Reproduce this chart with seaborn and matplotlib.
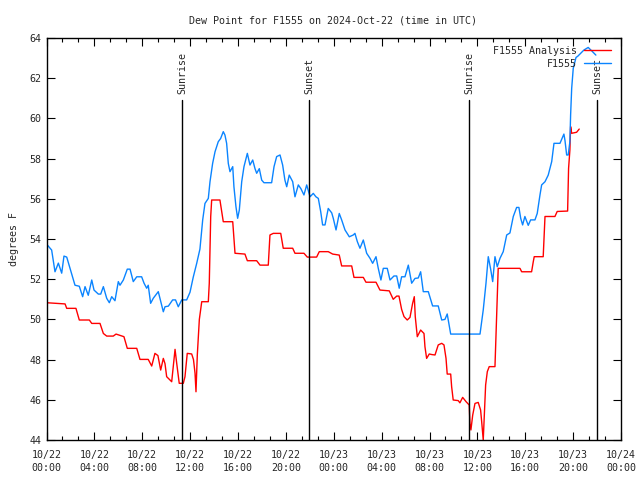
import pandas as pd
import numpy as np
import matplotlib
matplotlib.use("Agg")
import matplotlib.pyplot as plt
import matplotlib.dates as mdates
import matplotlib.ticker as mticker
import seaborn as sns

# hours after 2024-10-22 00:00 UTC, dew point in degrees F
obs_hours = [0.0, 0.43, 0.71, 0.99, 1.27, 1.46, 1.69, 1.96, 2.38, 2.74, 3.02, 3.22, 3.49, 3.78, 3.97,
             4.33, 4.53, 4.75, 5.03, 5.25, 5.45, 5.72, 6.0, 6.14, 6.42, 6.75, 6.98, 7.25, 7.54, 7.95,
             8.15, 8.37, 8.5, 8.7, 8.92, 9.34, 9.76, 9.9, 10.18, 10.54, 10.78, 11.01, 11.3, 11.71,
             11.99, 12.26, 12.55, 12.82, 13.05, 13.24, 13.52, 13.66, 13.88, 14.08, 14.35, 14.55,
             14.77, 14.91, 15.05, 15.19, 15.33, 15.56, 15.66, 15.83, 15.97, 16.11, 16.31, 16.5,
             16.78, 17.0, 17.23, 17.42, 17.56, 17.78, 17.98, 18.17, 18.81, 19.01, 19.23, 19.51,
             19.73, 19.92, 20.07, 20.28, 20.57, 20.76, 21.04, 21.26, 21.51, 21.74, 22.02, 22.29,
             22.51, 22.71, 22.91, 23.07, 23.27, 23.54, 23.83, 23.96, 24.19, 24.46, 24.66, 24.94,
             25.3, 25.63, 25.77, 25.97, 26.19, 26.47, 26.75, 27.03, 27.25, 27.53, 27.72, 27.94,
             28.14, 28.47, 28.7, 29.03, 29.26, 29.47, 29.67, 29.95, 30.23, 30.51, 30.79, 31.06,
             31.26, 31.48, 31.9, 32.26, 32.73, 33.02, 33.29, 33.48, 33.77, 36.22, 36.49, 36.72,
             36.91, 37.11, 37.28, 37.47, 37.66, 37.89, 38.16, 38.45, 38.72, 39.0, 39.28, 39.47,
             39.62, 39.78, 39.97, 40.25, 40.45, 40.81, 41.0, 41.23, 41.37, 41.65, 41.92, 42.21,
             42.4, 42.9, 43.23, 43.32, 43.46, 43.59, 43.73, 43.79, 43.88, 44.01, 44.24, 44.4,
             44.63, 44.9, 45.26, 45.57, 45.9]
obs_dewpt = [53.75, 53.45, 52.37, 52.8, 52.3, 53.15, 53.1, 52.55, 51.7, 51.65, 51.13, 51.63, 51.2,
             51.96, 51.46, 51.26, 51.26, 51.63, 51.05, 50.83, 51.13, 50.93, 51.88, 51.7, 51.96,
             52.5, 52.5, 51.88, 52.12, 52.12, 51.8, 51.55, 51.7, 50.8, 51.05, 51.38, 50.38, 50.63,
             50.66, 50.97, 50.97, 50.63, 50.97, 50.97, 51.35, 52.1, 52.79, 53.5, 54.95, 55.77,
             56.02, 56.85, 57.76, 58.34, 58.84, 59.0, 59.34, 59.17, 58.76, 57.76, 57.35, 57.6,
             56.6, 55.6, 55.03, 55.44, 56.85, 57.6, 58.26, 57.68, 57.93, 57.5, 57.27, 57.5, 56.93,
             56.8, 56.8, 57.6, 58.1, 58.18, 57.68, 56.93, 56.6, 57.18, 56.85, 56.1, 56.69, 56.5,
             56.19, 56.69, 56.1, 56.27, 56.1, 56.02, 55.36, 54.7, 54.7, 55.52, 55.3, 55.03, 54.45,
             55.27, 54.95, 54.45, 54.11, 54.2, 54.28, 53.87, 53.54, 53.95, 53.29, 53.04, 52.79,
             53.12, 52.54, 51.96, 52.54, 52.54, 51.96, 52.16, 52.16, 51.55, 52.12, 52.12, 52.7,
             51.8, 52.04, 52.06, 52.37, 51.38, 51.38, 50.67, 50.67, 49.97, 50.0, 50.27, 49.27,
             49.27, 50.47, 51.8, 53.12, 52.5, 51.88, 53.12, 52.62, 53.04, 53.37, 54.2, 54.3, 55.12,
             55.57, 55.57, 55.03, 54.7, 55.12, 54.68, 54.95, 54.95, 55.27, 56.19, 56.69, 56.85,
             57.18, 57.85, 58.76, 58.76, 59.22, 58.9, 58.18, 58.18, 58.84, 60.17, 61.5, 62.49,
             63.03, 63.1, 63.24, 63.4, 63.53, 63.35, 63.15]

ana_hours = [0.0, 1.55, 1.69, 2.46, 2.74, 3.58, 3.78, 4.47, 4.75, 5.03, 5.58, 5.81, 6.47, 6.75, 7.54,
             7.81, 8.5, 8.79, 9.06, 9.31, 9.54, 9.76, 9.9, 10.04, 10.46, 10.59, 10.74, 10.88, 11.09,
             11.43, 11.57, 11.76, 12.13, 12.28, 12.41, 12.49, 12.6, 12.77, 12.97, 13.52, 13.6,
             13.72, 13.8, 14.49, 14.77, 15.56, 15.75, 16.58, 16.78, 17.56, 17.84, 18.53, 18.67,
             18.95, 19.57, 19.78, 20.57, 20.76, 21.51, 21.79, 22.57, 22.79, 23.54, 23.91, 24.46,
             24.66, 25.5, 25.69, 26.47, 26.69, 27.53, 27.86, 28.64, 28.97, 29.26, 29.45, 29.67,
             29.87, 30.14, 30.37, 30.59, 30.73, 30.81, 30.98, 31.26, 31.54, 31.62, 31.76, 31.98,
             32.2, 32.46, 32.73, 33.02, 33.21, 33.38, 33.48, 33.77, 33.85, 33.98, 34.4, 34.54,
             34.77, 35.05, 35.32, 35.38, 35.46, 35.61, 35.8, 36.07, 36.27, 36.36, 36.49, 36.69,
             36.83, 36.99, 37.47, 37.61, 37.74, 39.56, 39.7, 40.53, 40.67, 40.75, 41.5, 41.65,
             42.48, 42.67, 43.54, 43.62, 43.73, 43.79, 43.88, 44.29, 44.51]
ana_dewpt = [50.83, 50.77, 50.55, 50.55, 49.97, 49.97, 49.8, 49.8, 49.3, 49.17, 49.17, 49.27, 49.14,
             48.56, 48.56, 48.01, 48.01, 47.68, 48.31, 48.2, 47.48, 48.06, 47.8, 47.15, 46.9, 47.65,
             48.51, 47.81, 46.82, 46.82, 47.15, 48.31, 48.28, 48.0, 47.32, 46.4, 48.23, 50.0, 50.88,
             50.88, 51.8, 55.12, 55.94, 55.94, 54.86, 54.86, 53.29, 53.25, 52.92, 52.92, 52.7, 52.7,
             54.2, 54.28, 54.28, 53.54, 53.54, 53.29, 53.29, 53.1, 53.1, 53.37, 53.37, 53.25, 53.2,
             52.66, 52.66, 52.09, 52.09, 51.85, 51.85, 51.46, 51.42, 51.0, 51.16, 51.16, 50.5,
             50.14, 49.97, 50.1, 50.8, 51.13, 50.14, 49.14, 49.47, 49.3, 48.64, 48.06, 48.28, 48.25,
             48.23, 48.73, 48.81, 48.73, 48.06, 47.28, 47.28, 46.65, 45.99, 45.96, 45.85, 46.12,
             45.91, 45.74, 44.83, 44.5, 45.24, 45.82, 45.87, 45.49, 44.91, 44.0, 46.74, 47.4, 47.65,
             47.65, 50.14, 52.54, 52.54, 52.37, 52.37, 52.87, 53.12, 53.12, 55.12, 55.12, 55.37,
             55.39, 57.51, 58.43, 59.59, 59.26, 59.31, 59.47]

sun_hours = [11.32, 21.93, 35.34, 46.03]
sun_labels = ["Sunrise", "Sunset", "Sunrise", "Sunset"]

start = pd.Timestamp("2024-10-22 00:00")
obs = pd.DataFrame({"time": start + pd.to_timedelta(obs_hours, unit="h"), "dewpt": obs_dewpt})
ana = pd.DataFrame({"time": start + pd.to_timedelta(ana_hours, unit="h"), "dewpt": ana_dewpt})

sns.set_style("ticks")
plt.rcParams["font.family"] = ["DejaVu Sans Mono"]
fs = 7.2

fig = plt.figure(figsize=(6.4, 4.8), dpi=100)
ax = fig.add_axes([46.5 / 640, 40 / 480, (621 - 46.5) / 640, 402 / 480])

sns.lineplot(data=ana, x="time", y="dewpt", color="#ff0000", lw=1, label="F1555 Analysis", ax=ax)
sns.lineplot(data=obs, x="time", y="dewpt", color="#0a84ff", lw=1, label="F1555", ax=ax)

for h, lab in zip(sun_hours, sun_labels):
    t = start + pd.Timedelta(hours=h)
    ax.axvline(t, ymin=0, ymax=(440 - 100) / 402, color="black", lw=1)
    ax.text(t, 61.2, lab, rotation=90, ha="center", va="bottom", fontsize=fs)

ax.set_xlim(start, start + pd.Timedelta(hours=48))
ax.set_ylim(44, 64)
ax.xaxis.set_major_locator(mticker.MultipleLocator(1 / 6))
ax.xaxis.set_minor_locator(mticker.MultipleLocator(1 / 18))
ax.xaxis.set_major_formatter(mdates.DateFormatter("%m/%d\n%H:%M"))
ax.yaxis.set_major_locator(mticker.MultipleLocator(2))
ax.tick_params(which="both", direction="in", top=True, right=True, labelsize=fs, width=0.8, color="black")
ax.tick_params(which="major", length=6)
ax.tick_params(axis="x", which="major", pad=7)
ax.tick_params(which="minor", length=3)
for s in ax.spines.values():
    s.set_color("black")
    s.set_linewidth(1)

ax.set_xlabel("")
ax.set_ylabel("degrees F", fontsize=fs, labelpad=8)
fig.suptitle("Dew Point for F1555 on 2024-Oct-22 (time in UTC)", fontsize=fs, x=0.52, y=0.968)

ax.legend(loc="upper right", bbox_to_anchor=(1.0, 1.005), frameon=False, markerfirst=False,
          fontsize=fs, handlelength=2.7, handletextpad=0.7, labelspacing=0.3, borderpad=0.5)

fig.canvas.draw()
plt.setp(ax.get_xticklabels(), linespacing=1.45)

fig.savefig("out.png", dpi=100)
